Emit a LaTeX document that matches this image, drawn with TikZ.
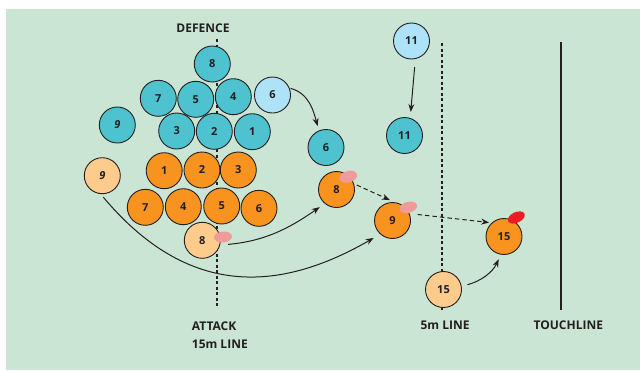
\documentclass[tikz,border=0pt]{standalone}
\usepackage{fontspec}
\setmainfont{Open Sans}
\usetikzlibrary{arrows.meta}

\definecolor{pitch}{HTML}{CBE5D4}
\definecolor{ink}{HTML}{231F20}
\definecolor{dfblue}{HTML}{4FC2D0}
\definecolor{dfpale}{HTML}{AEE2F9}
\definecolor{atorange}{HTML}{F7931E}
\definecolor{atpale}{HTML}{FDCB8C}
\definecolor{ballpk}{HTML}{F09B9B}
\definecolor{ballrd}{HTML}{ED1C24}
\tikzset{
  pl/.style={circle,draw=ink,line width=0.9pt,minimum size=36pt,inner sep=0pt,font=\fontsize{11}{13}\selectfont\bfseries,text=ink},
  dfpl/.style={pl,fill=dfblue},
  dfmove/.style={pl,fill=dfpale},
  atpl/.style={pl,fill=atorange},
  atmove/.style={pl,fill=atpale},
  gline/.style={draw=ink,line width=1.1pt,dash pattern=on 3pt off 2.5pt},
  tline/.style={draw=ink,line width=1.8pt},
  runarr/.style={ink,line width=1pt,-{Stealth[length=8pt,width=6pt]}},
  passarr/.style={runarr,dash pattern=on 4.5pt off 3pt},
  lbl/.style={font=\fontsize{12}{18.3}\selectfont\bfseries,text=ink,inner sep=0pt},
}

\begin{document}
\begin{tikzpicture}[x=1pt,y=-1pt]
  \useasboundingbox (0,0) rectangle (640,370);
  \fill[pitch] (6,9) rectangle (640,370);
  \draw[gline] (217,39) -- (217,308);                                   % 15m
  \draw[gline] (442,43) -- (442,312);                                   % 5m
  \draw[tline] (561,42) -- (561,310);                                   % touchline
  \foreach \n/\x/\y in {8/212.3/64, 7/158.3/98.3, 5/195.7/99.3, 4/233.3/96.7, 3/176.7/131, 2/214.3/131.3, 1/252.3/131.7}
    \node[dfpl] (d\n) at (\x,\y) {\n};
  \node[dfpl] (d9) at (117.3,125) {\itshape 9};
  \node[dfmove] (d6) at (272.5,95) {6};
  \foreach \n/\x/\y in {1/164.2/170.7, 2/202/170, 3/238.3/170, 7/145.3/207.3, 4/183.3/206.7, 5/221.7/206, 6/259/208.3}
    \node[atpl] (a\n) at (\x,\y) {\n};
  \node[atmove] (a9) at (102.3,175.7) {\itshape 9};
  \node[atmove] (a8) at (202.3,240.3) {8};
  \node[atmove] (a15) at (443.5,289.5) {15};
  \node[dfmove] (t11) at (411.5,41) {11};
  \node[dfpl] (m11) at (404.5,135.5) {11};
  \node[dfpl] (m6) at (326,147.5) {6};
  \node[atpl] (m8) at (336.5,189.5) {8};
  \node[atpl] (m9) at (392.5,220.5) {9};
  \node[atpl] (m15) at (504,236.5) {15};
  % runs and passes
  \draw[runarr,shorten <=1pt,shorten >=4.5pt] (d6.22) to[out=-15,in=105] (m6.113);
  \draw[runarr,shorten <=8pt,shorten >=6pt] (t11.-78) -- (m11.72);
  \draw[runarr,shorten <=8pt,shorten >=6pt] (a8.-15) to[out=5,in=-145] (m8.-130);
  \draw[runarr,shorten <=4pt,shorten >=7.5pt] (a9.-95) to[out=-50,in=-150,looseness=1.15] (m9.228);
  \draw[runarr,shorten <=6pt,shorten >=5pt] (a15.10) to[out=15,in=-115] (m15.-100);
  \draw[passarr,shorten <=3pt,shorten >=5pt] (m8.18) -- (m9.84);
  \draw[passarr,shorten <=8pt,shorten >=2.5pt] (m9.22) -- (m15.132);
  % balls
  \fill[ballpk,rotate around={5:(223,237)}] (223,237) ellipse (9 and 5.5);
  \fill[ballpk,rotate around={15:(348.3,176.7)}] (348.3,176.7) ellipse (9 and 5.8);
  \fill[ballpk,rotate around={15:(408.3,207.3)}] (408.3,207.3) ellipse (9 and 5.5);
  \fill[ballrd,rotate around={25:(516.3,217.5)}] (516.3,217.5) ellipse (9 and 5.3);
  % labels
  \node[lbl,anchor=base] (defence) at (203,32.7) {DEFENCE};
  \node[lbl,anchor=base west,align=left] (attack) at (191.7,348.3) {ATTACK\\15m LINE};
  \node[lbl,anchor=base] (fiveline) at (445,329.3) {5m LINE};
  \node[lbl,anchor=base] (touch) at (568.3,329.3) {TOUCHLINE};
\end{tikzpicture}
\end{document}
